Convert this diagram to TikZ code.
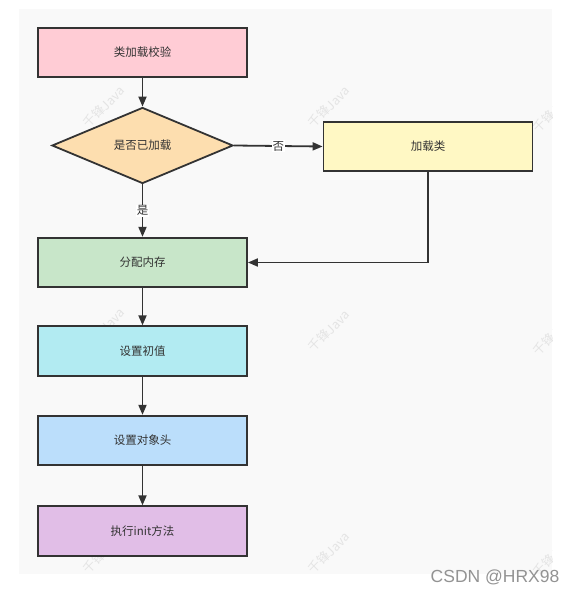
\documentclass[tikz,border=0pt]{standalone}
\usepackage{fontspec}
\setmainfont{Noto Sans CJK SC}
\newfontfamily\latinsans{Liberation Sans}
\usetikzlibrary{shapes.geometric,arrows.meta}
\definecolor{bgc}{HTML}{F9F9F9}
\definecolor{linec}{HTML}{333333}
\definecolor{cpink}{HTML}{FFCCD5}
\definecolor{corange}{HTML}{FDDEAF}
\definecolor{cyellow}{HTML}{FFF8C4}
\definecolor{cgreen}{HTML}{C8E6C9}
\definecolor{ccyan}{HTML}{B2EBF2}
\definecolor{cblue}{HTML}{BBDEFB}
\definecolor{cpurple}{HTML}{E1BEE7}
\definecolor{wmark}{HTML}{E4E4E4}
\tikzset{
  stepbox/.style={draw=linec, line width=1.8pt, rectangle, minimum width=209pt, minimum height=49.5pt, inner sep=0pt, font=\fontsize{11.5}{13}\selectfont, text=linec},
  decide/.style={draw=linec, line width=1.8pt, diamond, aspect=2.37, minimum width=181pt, minimum height=76pt, inner sep=0pt, font=\fontsize{11.5}{13}\selectfont, text=linec, fill=corange},
  flow/.style={draw=linec, line width=1.8pt, -{Triangle[length=10pt,width=8pt]}},
  elabel/.style={fill=white, inner sep=1pt, font=\fontsize{11.5}{13}\selectfont, text=linec},
  wm/.style={rotate=45, text=wmark, font=\fontsize{12.5}{14}\selectfont, inner sep=0pt}
}
\begin{document}
\begin{tikzpicture}[x=1pt,y=-1pt]
\useasboundingbox (0,0) rectangle (576,593);
\fill[white] (0,0) rectangle (576,593);
\fill[bgc] (19,9) rectangle (552,574);
\begin{scope}
\clip (19,9) rectangle (552,574);
\foreach \px/\py [count=\i] in {104/107, 329/107, 554/112, 104/329, 329/331, 554/335, 104/553, 329/553, 554/556}{
  \node[wm] (wm\i) at (\px,\py) {千锋Java};
}
\end{scope}

\node[stepbox, fill=cpink] (check) at (142.5,52.5) {类加载校验};
\node[decide] (loaded) at (142.5,145.5) {是否已加载};
\node[stepbox, fill=cyellow] (load) at (428,146.5) {加载类};
\node[stepbox, fill=cgreen] (alloc) at (142.5,262.5) {分配内存};
\node[stepbox, fill=ccyan] (init) at (142.5,351) {设置初值};
\node[stepbox, fill=cblue] (header) at (142.5,440.5) {设置对象头};
\node[stepbox, fill=cpurple] (exec) at (142.5,531) {执行init方法};

\draw[flow] (check) -- (loaded);
\draw[flow] (loaded.south) -- node[elabel] (yes) {是} (alloc.north);
\draw[flow] (loaded.east) -- node[elabel] (no) {否} (load.west);
\draw[flow] (load.south) |- (alloc.east);
\draw[flow] (alloc) -- (init);
\draw[flow] (init) -- (header);
\draw[flow] (header) -- (exec);

\node[text=gray!85, font=\latinsans\fontsize{17.5}{20}\selectfont, inner sep=0pt] (csdn) at (495,577) {CSDN @HRX98};
\end{tikzpicture}
\end{document}
